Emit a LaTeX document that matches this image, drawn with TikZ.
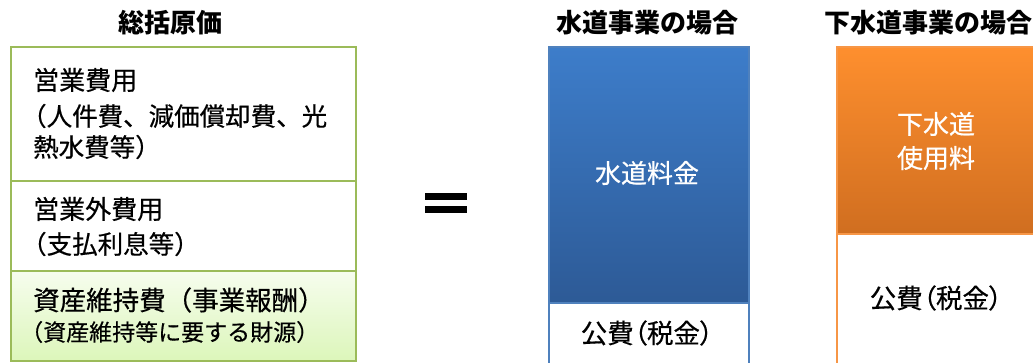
\documentclass[tikz,border=0pt]{standalone}
\usepackage{fontspec}
\newfontfamily\jp{Noto Sans CJK JP}
\newfontfamily\jpm[FakeBold=0.5]{Noto Sans CJK JP}
\newfontfamily\jpp[RawFeature=+palt,FakeBold=0.5]{Noto Sans CJK JP}
\definecolor{grn}{RGB}{155,187,89}
\definecolor{lgrn}{RGB}{220,246,186}
\definecolor{bluetop}{RGB}{61,125,202}
\definecolor{bluebot}{RGB}{45,90,150}
\definecolor{blueline}{RGB}{79,129,189}
\definecolor{orgtop}{RGB}{254,143,46}
\definecolor{orgbot}{RGB}{208,110,32}
\definecolor{orgline}{RGB}{247,150,70}
\tikzset{
  sect/.style={draw=grn, line width=2pt, anchor=north west, inner sep=0pt, minimum width=345pt},
  ttl/.style={font=\jp\bfseries\fontsize{26}{30}\selectfont, anchor=center},
  head/.style={font=\jpm\fontsize{26}{30}\selectfont, anchor=west, inner sep=0pt},
  body/.style={font=\jpm\fontsize{25.5}{30}\selectfont, anchor=west, inner sep=0pt},
  small/.style={font=\jpm\fontsize{23}{26}\selectfont, anchor=west, inner sep=0pt},
  inbox/.style={font=\jpm\fontsize{26}{34}\selectfont, align=center, anchor=center},
  tax/.style={font=\jpp\fontsize{26.5}{30}\selectfont, anchor=center},
  bar/.style={fill=black, draw=none, anchor=north west, inner sep=0pt, minimum width=42pt, minimum height=7pt}
}
\begin{document}
\begin{tikzpicture}[x=1pt,y=-1pt]
\useasboundingbox (0,0) rectangle (1033,362);
\clip (0,0) rectangle (1033,362);
% titles
\node[ttl] (t1) at (170,23) {総括原価};
\node[ttl] (t2) at (647,23) {水道事業の場合};
\node[ttl] (t3) at (928,23) {下水道事業の場合};
% left box
\node[sect, minimum height=134pt, fill=white] (opex) at (10,46) {};
\node[sect, minimum height=90pt, fill=white] (nonop) at (10,180) {};
\node[sect, minimum height=90pt, top color=white!75!lgrn, bottom color=lgrn] (asset) at (10,270) {};
\node[head] (a1) at (33,80) {営業費用};
\node[body] (a2) at (21,116) {（人件費、減価償却費、光};
\node[body] (a3) at (33,147) {熱水費等）};
\node[head] (b1) at (33,209) {営業外費用};
\node[body] (b2) at (21,244) {（支払利息等）};
\node[font=\jpm\fontsize{26.5}{30}\selectfont, anchor=west, inner sep=0pt] (c1) at (33,300) {資産維持費（事業報酬）};
\node[small] (c2) at (20,332) {（資産維持等に要する財源）};
% equals
\node[bar] (eq1) at (425,193) {};
\node[bar] (eq2) at (425,206) {};
% water box
\node[draw=blueline, line width=2pt, top color=bluetop, bottom color=bluebot, anchor=north west, inner sep=0pt, minimum width=200pt, minimum height=256pt] (fee) at (548,46) {};
\node[draw=blueline, line width=2pt, fill=white, anchor=north west, inner sep=0pt, minimum width=200pt, minimum height=70pt] (pub1) at (548,302) {};
\node[inbox, text=white] (feet) at (647,173) {水道料金};
\node[tax] (pub1t) at (647,333) {公費（税金）};
% sewer box
\node[draw=orgline, line width=2pt, top color=orgtop, bottom color=orgbot, anchor=north west, inner sep=0pt, minimum width=210pt, minimum height=187pt] (sfee) at (836,46) {};
\node[draw=orgline, line width=2pt, fill=white, anchor=north west, inner sep=0pt, minimum width=210pt, minimum height=140pt] (pub2) at (836,233) {};
\node[inbox, text=white] (sfeet) at (936,141) {下水道\\使用料};
\node[tax] (pub2t) at (936,298) {公費（税金）};
\end{tikzpicture}
\end{document}
